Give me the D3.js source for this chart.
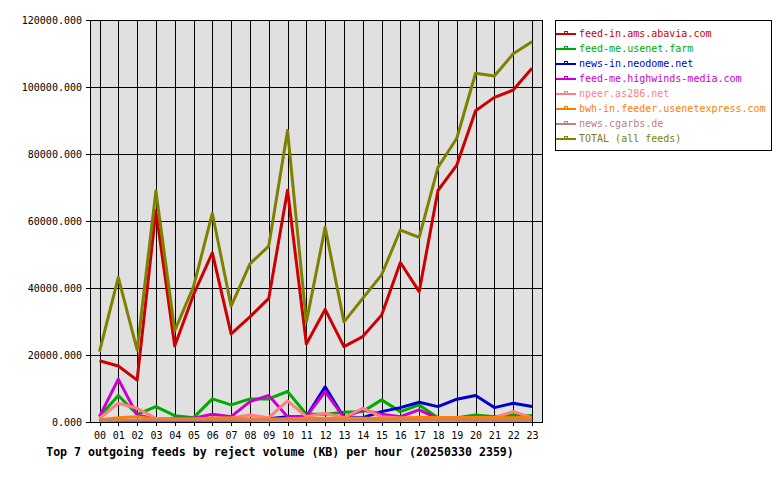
<!DOCTYPE html>
<html>
<head>
<meta charset="utf-8">
<script src="https://cdn.jsdelivr.net/npm/d3@7"></script>
<style>
  body { margin: 0; background: #fff; }
  svg text { font-family: "DejaVu Sans Mono", monospace; }
</style>
</head>
<body>
<div id="chart"></div>
<script>
const hours = ["00","01","02","03","04","05","06","07","08","09","10","11","12","13","14","15","16","17","18","19","20","21","22","23"];

const feedNames = ["feed-in.ams.abavia.com", "feed-me.usenet.farm", "news-in.neodome.net",
  "feed-me.highwinds-media.com", "npeer.as286.net", "bwh-in.feeder.usenetexpress.com",
  "news.cgarbs.de", "TOTAL (all feeds)"];
const feedColors = ["#cc0000", "#00aa00", "#0000cc", "#cc00cc", "#ff8080", "#ff8000", "#c08080", "#808000"];

const abavia   = [18300,16700,12500,63100,22700,38000,50500,26300,31400,36900,69200,23300,33600,22500,25500,31900,47600,38900,69100,76700,92900,96900,99100,105600];
const usenetFarm = [1600,7900,2300,4600,1900,1300,6900,5100,6900,6900,9100,2300,2300,2900,3100,6600,3100,5100,1300,1300,2100,1600,2100,1900];
const neodome  = [700,500,400,400,400,400,500,500,600,1000,1600,1600,10500,1300,1300,3100,4300,5900,4600,6800,7900,4300,5600,4600];
const highwinds = [1600,12800,2100,800,1100,1100,2300,1600,6100,7900,1600,1600,9100,1300,3600,2300,1600,3600,1000,700,600,600,600,600];
const npeer    = [1100,5600,4100,1100,900,900,1100,1200,2100,1300,6300,1600,2600,1300,4100,1600,1200,1200,1300,1300,1300,1300,3100,1300];
const usenetexpress = [700,1300,1600,900,800,800,1200,1200,900,900,1000,1100,1100,1100,1100,1100,1100,1400,1300,1300,1300,1300,1300,1300];
const cgarbs   = [500,500,500,500,500,500,500,500,500,500,500,500,500,500,500,500,500,500,500,500,500,500,500,500];
const total    = [21000,43200,21500,69000,27300,40400,62300,34600,47200,52500,87000,29800,58100,29900,36900,43900,57300,55100,76000,84700,104100,103300,109900,113500];

const yTicks = [0,20000,40000,60000,80000,100000,120000];

const seriesValues = [abavia, usenetFarm, neodome, highwinds, npeer, usenetexpress, cgarbs, total];

const width = 780, height = 480;
const plot = { left: 90, right: 542, top: 20, bottom: 422 };

const svg = d3.select("#chart").append("svg")
  .attr("width", width)
  .attr("height", height);

// hours sit 9px in from each plot edge
const x = d3.scalePoint()
  .domain(hours)
  .range([99.5, 532]);

const y = d3.scaleLinear()
  .domain([0, 120000])
  .range([plot.bottom, plot.top]);

svg.append("rect")
  .attr("x", plot.left).attr("y", plot.top)
  .attr("width", plot.right - plot.left).attr("height", plot.bottom - plot.top)
  .attr("fill", "#e0e0e0");

// grid
const grid = svg.append("g").attr("shape-rendering", "crispEdges");
grid.selectAll("line.v")
  .data(hours)
  .enter().append("line")
  .attr("x1", d => Math.round(x(d)) + 0.5).attr("x2", d => Math.round(x(d)) + 0.5)
  .attr("y1", plot.top).attr("y2", plot.bottom + 4)
  .attr("stroke", "#000");
grid.selectAll("line.h")
  .data(yTicks)
  .enter().append("line")
  .attr("x1", plot.left - 4).attr("x2", plot.right)
  .attr("y1", d => Math.round(y(d)) + 0.5).attr("y2", d => Math.round(y(d)) + 0.5)
  .attr("stroke", "#000");

svg.append("rect")
  .attr("x", plot.left + 0.5).attr("y", plot.top + 0.5)
  .attr("width", plot.right - plot.left).attr("height", plot.bottom - plot.top)
  .attr("fill", "none").attr("stroke", "#000")
  .attr("shape-rendering", "crispEdges");

// axis labels
svg.append("g").selectAll("text")
  .data(yTicks)
  .enter().append("text")
  .attr("x", 82)
  .attr("y", d => y(d) + 4)
  .attr("text-anchor", "end")
  .attr("font-size", "10px")
  .attr("fill", "#000")
  .text(d => d3.format(".3f")(d));

svg.append("g").selectAll("text")
  .data(hours)
  .enter().append("text")
  .attr("x", d => x(d) + 0.5)
  .attr("y", 439)
  .attr("text-anchor", "middle")
  .attr("font-size", "10px")
  .attr("fill", "#000")
  .text(d => d);

// lines
const line = d3.line()
  .x((d, i) => x(hours[i]))
  .y(d => y(d));

svg.append("g").selectAll("path")
  .data(seriesValues)
  .enter().append("path")
  .attr("d", d => line(d))
  .attr("fill", "none")
  .attr("stroke", (d, i) => feedColors[i])
  .attr("stroke-width", 3)
  .attr("stroke-linejoin", "round");

// title
svg.append("text")
  .attr("x", 280)
  .attr("y", 456)
  .attr("text-anchor", "middle")
  .attr("font-size", "11.6px")
  .attr("font-weight", "bold")
  .attr("fill", "#000")
  .text("Top 7 outgoing feeds by reject volume (KB) per hour (20250330 2359)");

// legend
const legend = svg.append("g");
legend.append("rect")
  .attr("x", 555.5).attr("y", 20.5)
  .attr("width", 216).attr("height", 130)
  .attr("fill", "#fff").attr("stroke", "#000")
  .attr("shape-rendering", "crispEdges");

const items = legend.selectAll("g.item")
  .data(feedNames)
  .enter().append("g")
  .attr("transform", (d, i) => `translate(0,${33 + i * 15})`);

items.append("line")
  .attr("x1", 556).attr("x2", 576)
  .attr("y1", 1).attr("y2", 1)
  .attr("stroke", (d, i) => feedColors[i])
  .attr("stroke-width", 2)
  .attr("shape-rendering", "crispEdges");
items.append("rect")
  .attr("x", 564.5).attr("y", -1.5)
  .attr("width", 3).attr("height", 2)
  .attr("fill", "none")
  .attr("stroke", (d, i) => feedColors[i])
  .attr("shape-rendering", "crispEdges");
items.append("text")
  .attr("x", 579)
  .attr("y", 4)
  .attr("font-size", "10px")
  .attr("fill", (d, i) => feedColors[i])
  .text(d => d);
</script>
</body>
</html>
